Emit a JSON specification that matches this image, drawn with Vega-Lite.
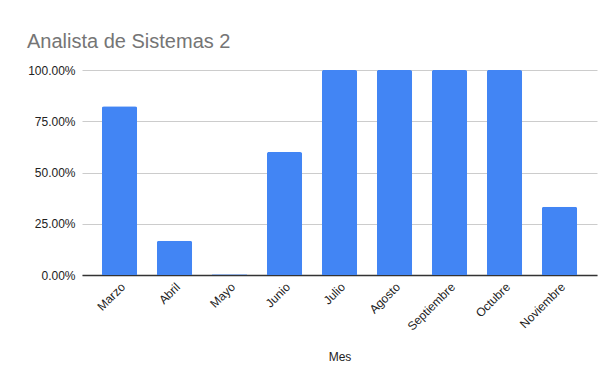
{
  "$schema": "https://vega.github.io/schema/vega-lite/v6.json",
  "autosize": {"type": "none"},
  "width": 515,
  "height": 205,
  "padding": {"left": 82, "top": 70, "right": 9, "bottom": 103},
  "background": "white",
  "config": {
    "font": "Liberation Sans",
    "view": {"stroke": null}
  },
  "title": {
    "text": "Analista de Sistemas 2",
    "anchor": "start",
    "frame": "group",
    "dx": -55,
    "fontSize": 20,
    "fontWeight": "normal",
    "color": "#757575",
    "font": "Liberation Sans",
    "offset": 12
  },
  "data": {
    "values": [
      {"Mes": "Marzo", "valor": 0.8235},
      {"Mes": "Abril", "valor": 0.1667},
      {"Mes": "Mayo", "valor": 0.004},
      {"Mes": "Junio", "valor": 0.6},
      {"Mes": "Julio", "valor": 1},
      {"Mes": "Agosto", "valor": 1},
      {"Mes": "Septiembre", "valor": 1},
      {"Mes": "Octubre", "valor": 1},
      {"Mes": "Noviembre", "valor": 0.3333}
    ]
  },
  "mark": {"type": "bar", "color": "#4285F4", "cornerRadiusTopLeft": 2, "cornerRadiusTopRight": 2},
  "encoding": {
    "x": {
      "field": "Mes",
      "type": "nominal",
      "sort": null,
      "scale": {"paddingInner": 0.36, "paddingOuter": 0.362},
      "axis": {
        "title": "Mes",
        "titleFontSize": 12,
        "titleFontWeight": "normal",
        "titleColor": "#222222",
        "titlePadding": 19,
        "labelAngle": -45,
        "labelFontSize": 12,
        "labelColor": "#222222",
        "labelPadding": 6,
        "ticks": false,
        "domainColor": "#333333",
        "domainWidth": 1.5
      }
    },
    "y": {
      "field": "valor",
      "type": "quantitative",
      "scale": {"domain": [0, 1]},
      "axis": {
        "title": null,
        "values": [0, 0.25, 0.5, 0.75, 1],
        "format": ".2%",
        "labelFontSize": 12,
        "labelColor": "#222222",
        "labelPadding": 7,
        "ticks": false,
        "domain": false,
        "gridColor": "#cccccc",
        "gridWidth": 1
      }
    }
  }
}
